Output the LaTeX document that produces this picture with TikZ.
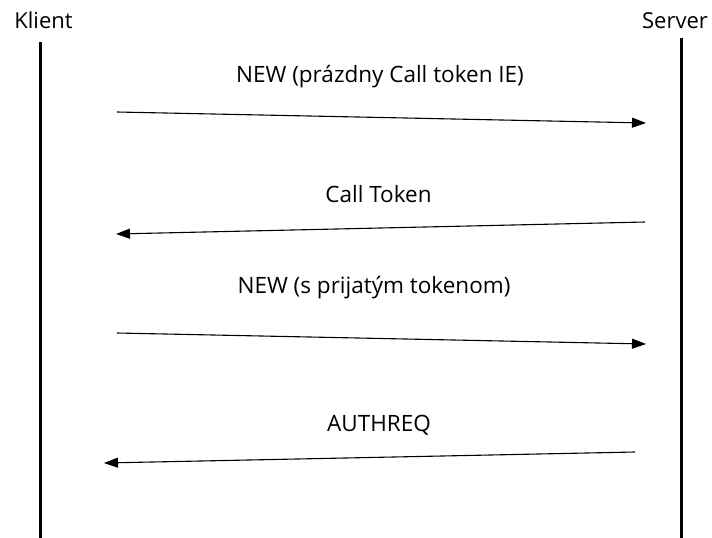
\documentclass[tikz,border=0pt]{standalone}
\usepackage{fontspec}
\setmainfont{Open Sans}
\usetikzlibrary{arrows.meta}
\begin{document}
\begin{tikzpicture}[x=1pt,y=-1pt,
  lifeline/.style={line width=3pt},
  msg/.style={line width=1.1pt,-{Triangle[length=14pt,width=10pt]}},
  lbl/.style={font=\fontsize{22.5}{26}\selectfont,inner sep=0pt,anchor=base},
  actor/.style={font=\fontsize{22}{26}\selectfont,inner sep=0pt,anchor=base}]
\useasboundingbox (0,0) rectangle (712,538);
\node[actor] (klient) at (43.5,28) {Klient};
\node[actor] (server) at (675,28) {Server};
\coordinate (kt) at (40,42);
\coordinate (kb) at (40,538);
\coordinate (st) at (681,38);
\coordinate (sb) at (681,538);
\draw[lifeline] (kt) -- (kb);
\draw[lifeline] (st) -- (sb);
\coordinate (a1s) at (117,112);
\coordinate (a1e) at (646,123);
\coordinate (a2s) at (645,222);
\coordinate (a2e) at (116,234);
\coordinate (a3s) at (117,333);
\coordinate (a3e) at (646,344);
\coordinate (a4s) at (635,452);
\coordinate (a4e) at (104,463);
\draw[msg] (a1s) -- (a1e);
\draw[msg] (a2s) -- (a2e);
\draw[msg] (a3s) -- (a3e);
\draw[msg] (a4s) -- (a4e);
\node[lbl] (l1) at (380,82) {NEW (prázdny Call token IE)};
\node[lbl] (l2) at (378.5,202) {Call Token};
\node[lbl] (l3) at (374,293) {NEW (s prijatým tokenom)};
\node[lbl] (l4) at (379,431) {AUTHREQ};
\end{tikzpicture}
\end{document}
